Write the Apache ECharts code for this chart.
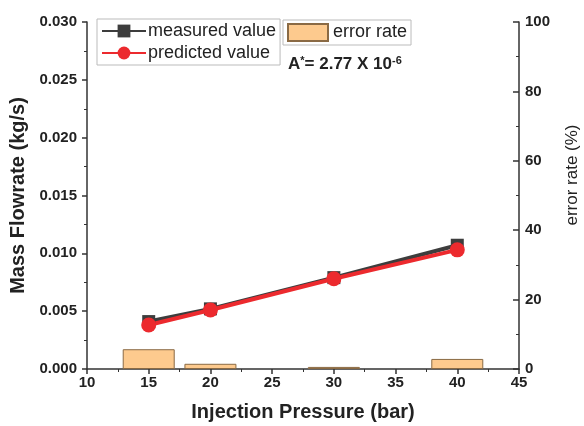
<!DOCTYPE html>
<html><head><meta charset="utf-8">
<script src="https://cdn.jsdelivr.net/npm/echarts@6/dist/echarts.min.js"></script>
<style>html,body{margin:0;padding:0;background:#fff}#c{width:584px;height:426px}</style>
</head><body><div id="c"></div>
<script>
const pressures = [15, 20, 30, 40];
const measured = [0.0041, 0.0052, 0.0079, 0.0107];
const predicted = [0.0038, 0.0051, 0.0078, 0.0103];
const errorRate = [5.7, 1.5, 0.6, 2.9];
const xTicks = [10, 15, 20, 25, 30, 35, 40, 45];

const chart = echarts.init(document.getElementById('c'));
const F = 'Liberation Sans, Arial, sans-serif';
const axisLine = {show: true, lineStyle: {color: '#333', width: 1.5}};
const tickLbl = {fontFamily: F, fontSize: 15, fontWeight: 'bold', color: '#222'};
chart.setOption({
  animation: false,
  grid: {left: 87, right: 65, top: 22, bottom: 57, outerBoundsMode: 'none', containLabel: false},
  legend: [{
    data: ['measured value', 'predicted value'],
    left: 97, top: 19, orient: 'vertical',
    itemWidth: 44, itemHeight: 16, itemGap: 4,
    padding: [3, 4, 3, 4],
    borderColor: '#bbb', borderWidth: 1,
    textStyle: {fontFamily: F, fontSize: 18, color: '#222', padding: [0, 0, 0, -3]}
  }, {
    data: [{name: 'error rate', icon: 'rect'}],
    left: 283, top: 20,
    itemWidth: 40, itemHeight: 17,
    padding: [3, 4, 3, 4],
    borderColor: '#bbb', borderWidth: 1,
    textStyle: {fontFamily: F, fontSize: 18, color: '#222'}
  }],
  xAxis: {
    type: 'value', min: xTicks[0], max: xTicks[xTicks.length - 1], interval: 5,
    name: 'Injection Pressure (bar)', nameLocation: 'middle', nameGap: 33,
    nameTextStyle: {fontFamily: F, fontSize: 20, fontWeight: 'bold', color: '#222'},
    axisLine: axisLine,
    axisTick: {show: true, length: 5, lineStyle: {color: '#333', width: 1.5}},
    minorTick: {show: true, splitNumber: 2, length: 3, lineStyle: {color: '#333'}},
    splitLine: {show: false},
    axisLabel: Object.assign({margin: 6}, tickLbl)
  },
  yAxis: [{
    type: 'value', min: 0, max: 0.03, interval: 0.005, position: 'left',
    name: 'Mass Flowrate (kg/s)', nameLocation: 'middle', nameGap: 52,
    nameTextStyle: {fontFamily: F, fontSize: 20, fontWeight: 'bold', color: '#222'},
    axisLine: axisLine,
    axisTick: {show: true, length: 5, lineStyle: {color: '#333', width: 1.5}},
    minorTick: {show: true, splitNumber: 2, length: 3, lineStyle: {color: '#333'}},
    splitLine: {show: false},
    axisLabel: Object.assign({margin: 10, formatter: v => v.toFixed(3)}, tickLbl)
  }, {
    type: 'value', min: 0, max: 100, interval: 20, position: 'right',
    axisLine: axisLine,
    axisTick: {show: true, inside: true, length: 6, lineStyle: {color: '#333', width: 1.5}},
    minorTick: {show: true, splitNumber: 2, length: 3, lineStyle: {color: '#333'}},
    splitLine: {show: false},
    axisLabel: Object.assign({margin: 6}, tickLbl)
  }],
  series: [{
    name: 'error rate', type: 'bar', yAxisIndex: 1, barWidth: 52,
    data: pressures.map((p, i) => [p, errorRate[i]]),
    itemStyle: {color: '#fdca8e', borderColor: '#8a6a44', borderWidth: 1}
  }, {
    name: 'measured value', type: 'line', yAxisIndex: 0,
    data: pressures.map((p, i) => [p, measured[i]]),
    symbol: 'rect', symbolSize: 13,
    lineStyle: {color: '#3d3d3d', width: 4},
    itemStyle: {color: '#3d3d3d'}
  }, {
    name: 'predicted value', type: 'line', yAxisIndex: 0,
    data: pressures.map((p, i) => [p, predicted[i]]),
    symbol: 'circle', symbolSize: 15,
    lineStyle: {color: '#ec2a2e', width: 4},
    itemStyle: {color: '#ec2a2e'}
  }],
  graphic: [{
    type: 'text', left: 288, top: 55,
    style: {
      text: '{b|A}{s|*}{b|= 2.77 X 10}{s|-6}',
      rich: {
        b: {fontFamily: F, fontSize: 17, fontWeight: 'bold', fill: '#222', verticalAlign: 'bottom'},
        s: {fontFamily: F, fontSize: 11, fontWeight: 'bold', fill: '#222', verticalAlign: 'top', padding: [0, 0, 7, 0]}
      }
    }
  }, {
    type: 'text', x: 572, y: 175, rotation: Math.PI / 2,
    style: {text: 'error rate (%)', fontFamily: F, fontSize: 17, fill: '#222',
      align: 'center', verticalAlign: 'middle'}
  }]
});
</script></body></html>
